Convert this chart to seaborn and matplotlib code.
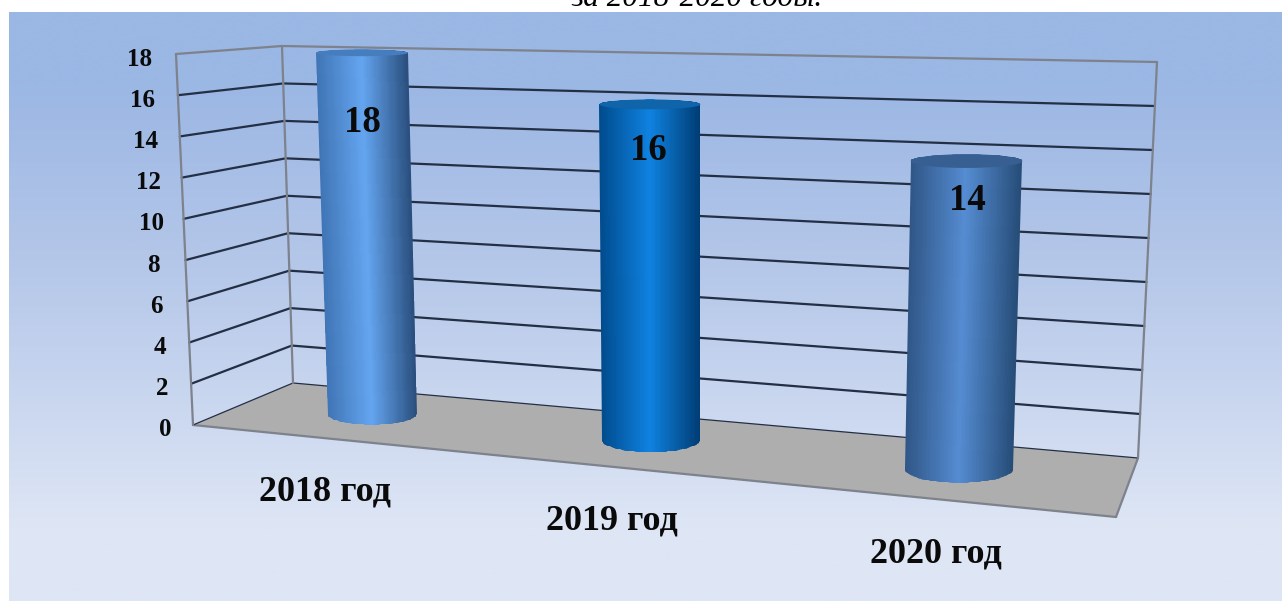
"""3D-look cylinder chart: seaborn lays out the bars, a homography puts them in perspective."""

import matplotlib
matplotlib.use("Agg")
import matplotlib.pyplot as plt
import numpy as np
import seaborn as sns
from matplotlib.patches import PathPatch, Polygon
from matplotlib.path import Path

YEARS = ["2018 год", "2019 год", "2020 год"]
VALUES = [18, 16, 14]
TICKS = [0, 2, 4, 6, 8, 10, 12, 14, 16, 18]
TITLE = "за 2018-2020 годы."

# layout, in pixels of the output picture
W, H = 1282, 601
FRONT_LEFT = {"bottom": (193, 425), "top": (176, 54)}
BACK_LEFT = {"bottom": (293, 383), "top": (282, 46)}
BACK_RIGHT = {"bottom": (1138, 458), "top": (1157, 62)}
FRONT_RIGHT_FLOOR = (1116, 517)
BAR_PLANE = {(-0.5, 0): (242, 402), (2.5, 0): (1125, 484), (-0.5, 18): (228, 49), (2.5, 18): (1141, 75)}
YEAR_LABEL_POS = [(325, 492), (612, 521), (936, 554)]
VALUE_LABEL_POS = [(362, 122), (648, 150), (967, 200)]

# cylinder shading: dark edge, highlight, dark edge, lid
BAR_SHADES = [
    ("#3f74b4", "#64a5f0", "#2a4f7e", "#467dbe"),
    ("#004b8c", "#0f82e1", "#003c73", "#0f64aa"),
    ("#2f5585", "#558cd2", "#264c77", "#375f91"),
]

GRID = "#232f45"
FRAME = "#7d828c"
FLOOR = "#aeaeae"


def lerp(a, b, t):
    return (a[0] + (b[0] - a[0]) * t, a[1] + (b[1] - a[1]) * t)


def wall_point(edge, value):
    return lerp(edge["bottom"], edge["top"], value / TICKS[-1])


def fit_homography(pairs):
    rows, rhs = [], []
    for (x, y), (u, v) in pairs.items():
        rows.append([x, y, 1, 0, 0, 0, -u * x, -u * y])
        rows.append([0, 0, 0, x, y, 1, -v * x, -v * y])
        rhs += [u, v]
    return np.append(np.linalg.solve(np.array(rows, float), np.array(rhs, float)), 1).reshape(3, 3)


HOMOGRAPHY = fit_homography(BAR_PLANE)


def project(x, value):
    p = HOMOGRAPHY @ np.array([x, value, 1.0])
    return p[0] / p[2], p[1] / p[2]


def lid_ratio(y):
    # ellipses open up with distance from the eye level above the chart
    return 0.05 + 0.00045 * y


def half_ellipse(x0, x1, y, ratio, front=True, n=40):
    t = np.linspace(np.pi, 0, n) if front else np.linspace(np.pi, 2 * np.pi, n)
    a = (x1 - x0) / 2
    return np.column_stack([(x0 + x1) / 2 + a * np.cos(t), y + a * ratio * np.sin(t)])


def draw_cylinder(ax, patch, shades):
    x0, x1, h = patch.get_x(), patch.get_x() + patch.get_width(), patch.get_height()
    bl, br, tl, tr = project(x0, 0), project(x1, 0), project(x0, h), project(x1, h)

    # the caps stay level on screen, whatever the tilt of the plane
    y_top, y_bot = (tl[1] + tr[1]) / 2, (bl[1] + br[1]) / 2
    top_back = half_ellipse(tl[0], tr[0], y_top, lid_ratio(y_top), front=False)
    top_front = half_ellipse(tl[0], tr[0], y_top, lid_ratio(y_top), front=True)
    bottom = half_ellipse(bl[0], br[0], y_bot, lid_ratio(y_bot), front=True)

    # silhouette, filled by a mesh that leans with the sides
    outline = np.vstack([top_back, bottom[::-1]])
    clip = PathPatch(Path(np.vstack([outline, outline[:1]])), transform=ax.transData)

    u = np.linspace(0, 1, 81)
    y_span = np.array([y_top - 10, bottom[:, 1].max() + 5])
    frac = (y_span - y_top) / (y_bot - y_top)
    X = np.array([tl[0] + (bl[0] - tl[0]) * f + ((tr[0] - tl[0]) + ((br[0] - bl[0]) - (tr[0] - tl[0])) * f) * u for f in frac])
    Y = np.repeat(y_span[:, np.newaxis], len(u), axis=1)
    stops = np.array([matplotlib.colors.to_rgb(c) for c in shades[:3]])
    mid = (u[:-1] + u[1:]) / 2
    rgb = np.column_stack([np.interp(mid, [0, 0.5, 1], stops[:, i]) for i in range(3)])
    mesh = ax.pcolormesh(X, Y, rgb[np.newaxis, :, :], shading="flat", zorder=6)
    mesh.set_clip_path(clip)

    ax.add_patch(Polygon(np.vstack([top_back, top_front[::-1]]), closed=True,
                         facecolor=shades[3], edgecolor="none", zorder=7))


sns.set_theme(style="white")
plt.rcParams["font.family"] = ["Liberation Serif", "DejaVu Serif"]

fig = plt.figure(figsize=(W / 100, H / 100), dpi=100, facecolor="white")

# seaborn sets the bar positions and heights; the flat axes itself stays hidden
bar_ax = fig.add_axes([0, 0, 1, 1])
sns.barplot(x=YEARS, y=VALUES, width=0.335, ax=bar_ax)
bar_ax.set_visible(False)

ax = fig.add_axes([0, 0, 1, 1])
ax.set_xlim(0, W)
ax.set_ylim(H, 0)
ax.set_axis_off()

# the caption above the chart is cut by the top edge, as in the source picture
ax.text((570 + 825) / 2, 6, TITLE, ha="center", va="baseline", fontsize=22.5,
        style="italic", color="black", zorder=1)

gradient = np.array([[155, 183, 228], [176, 196, 232], [198, 212, 238], [222, 230, 245]], float) / 255
ax.imshow(gradient[:, np.newaxis, :], extent=(9, W, H, 12), aspect="auto",
          interpolation="bilinear", zorder=2)
ax.set_xlim(0, W)
ax.set_ylim(H, 0)

# floor
ax.add_patch(Polygon([FRONT_LEFT["bottom"], BACK_LEFT["bottom"], BACK_RIGHT["bottom"], FRONT_RIGHT_FLOOR],
                     closed=True, facecolor=FLOOR, edgecolor="none", zorder=3))
for a, b, col in [(FRONT_LEFT["bottom"], FRONT_RIGHT_FLOOR, FRAME),
                  (FRONT_RIGHT_FLOOR, BACK_RIGHT["bottom"], FRAME),
                  (FRONT_LEFT["bottom"], BACK_LEFT["bottom"], GRID),
                  (BACK_LEFT["bottom"], BACK_RIGHT["bottom"], GRID)]:
    ax.plot(*zip(a, b), color=col, lw=1.6 if col == FRAME else 0.9, zorder=4)

# value gridlines on the side wall and the back wall
for tick in TICKS[1:]:
    col = FRAME if tick == TICKS[-1] else GRID
    pts = [wall_point(FRONT_LEFT, tick), wall_point(BACK_LEFT, tick), wall_point(BACK_RIGHT, tick)]
    ax.plot(*zip(*pts), color=col, lw=1.6, zorder=4, solid_joinstyle="miter")

for edge in (FRONT_LEFT, BACK_LEFT, BACK_RIGHT):
    ax.plot(*zip(edge["bottom"], edge["top"]), color=FRAME, lw=1.6, zorder=4.5)

for patch, shades in zip(bar_ax.patches, BAR_SHADES):
    draw_cylinder(ax, patch, shades)

for tick in TICKS:
    x, y = wall_point(FRONT_LEFT, tick)
    ax.text(x - 28 - 8 * tick / TICKS[-1], y + 5, str(tick), ha="center", va="center", fontsize=18,
            fontweight="bold", color="#0a0a0a", zorder=8)

for (x, y), value in zip(VALUE_LABEL_POS, VALUES):
    ax.text(x, y, str(value), ha="center", va="center", fontsize=26.5,
            fontweight="bold", color="#0a0a0a", zorder=8)

for (x, y), year in zip(YEAR_LABEL_POS, YEARS):
    ax.text(x, y, year, ha="center", va="center", fontsize=26,
            fontweight="bold", color="#0a0a0a", zorder=8)

fig.savefig("out.png", dpi=100, facecolor="white")
